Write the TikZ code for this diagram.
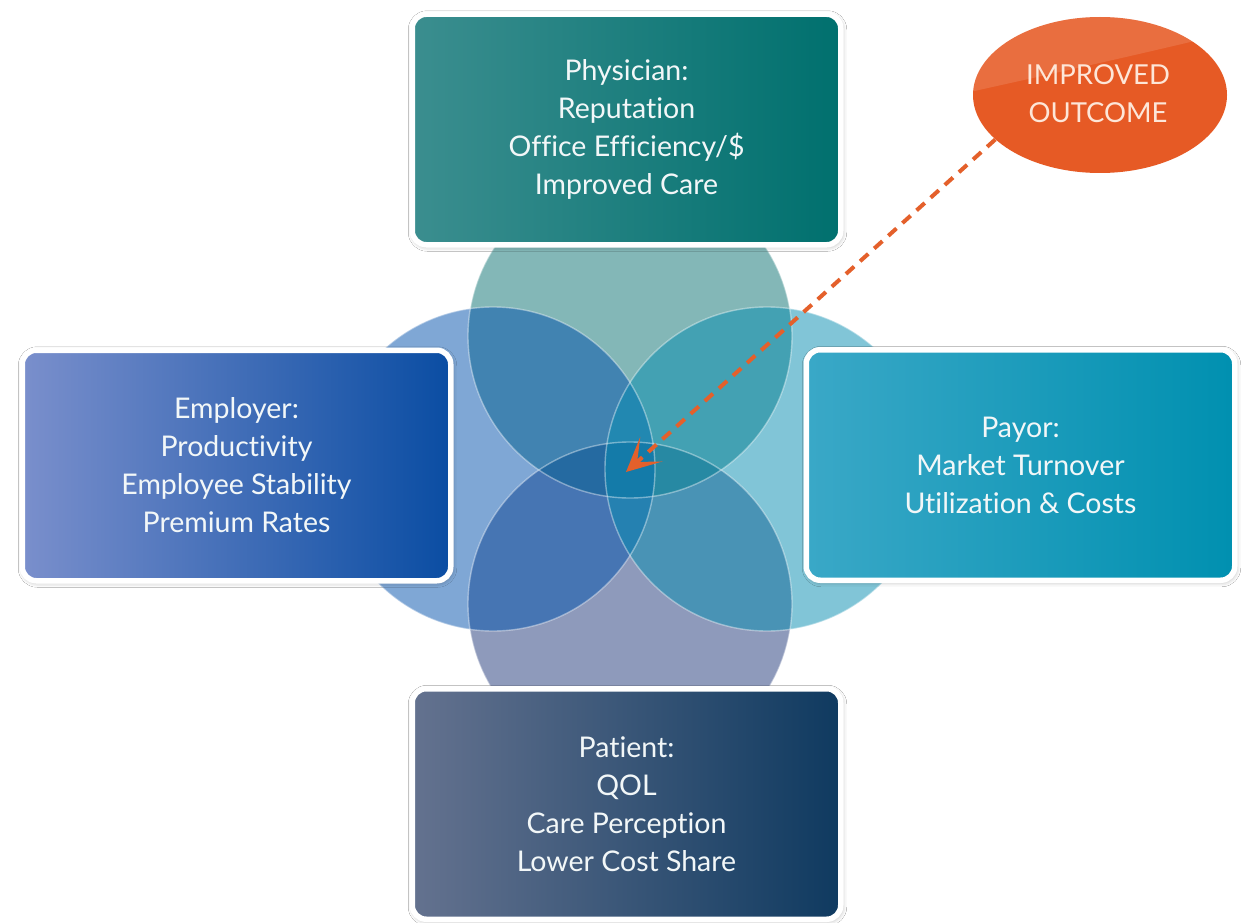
\documentclass[tikz,border=0pt]{standalone}
\usepackage{fontspec}
\setmainfont{Lato}[Ligatures={NoCommon}]
\usetikzlibrary{shapes.geometric,arrows.meta,shadows.blur}
\definecolor{cTop}{HTML}{097171}
\definecolor{cLeft}{HTML}{0051AD}
\definecolor{cRight}{HTML}{058DB1}
\definecolor{cBottom}{HTML}{1F3779}
\definecolor{physL}{HTML}{3B8E8F}
\definecolor{physR}{HTML}{00706E}
\definecolor{empL}{HTML}{7A8FCC}
\definecolor{empR}{HTML}{0A4DA3}
\definecolor{payL}{HTML}{3AA8C7}
\definecolor{payR}{HTML}{0090B0}
\definecolor{patL}{HTML}{64728F}
\definecolor{patR}{HTML}{0F3A60}
\definecolor{cardtext}{HTML}{F2F7F8}
\definecolor{orangeFill}{HTML}{E65A25}
\definecolor{orangeLine}{HTML}{E4602B}
\definecolor{ovaltext}{HTML}{FDE6D8}
\begin{document}
\begin{tikzpicture}[x=1pt,y=-1pt,
  circ/.style={fill opacity=0.5},
  ring/.style={draw=white, draw opacity=0.4, line width=1.4pt},
  card/.style={rounded corners=14pt, draw=white, line width=5.5pt,
    minimum width=428.5pt, minimum height=230.5pt, align=center,
    text=cardtext, font=\fontsize{28.5}{38}\selectfont,
    blur shadow={shadow xshift=1pt, shadow yshift=-1.5pt,
      shadow blur radius=5pt, shadow opacity=35}},
  oval/.style={ellipse, fill=orangeFill, minimum width=254pt,
    minimum height=156pt, inner sep=0pt},
  ovaltxt/.style={align=center, text=ovaltext,
    font=\fontsize{27.5}{38}\selectfont},
  arrowline/.style={draw=orangeLine, line width=4pt, dash pattern=on 11pt off 8pt,
    -{Stealth[length=34pt, width=33pt, inset=19pt, fill=orangeLine]}}
]
\useasboundingbox (0,0) rectangle (1243,923);
\fill[white] (0,0) rectangle (1243,923);

% overlapping circles
\fill[circ, cBottom] (630,604) circle[radius=162];
\fill[circ, cTop] (630,336) circle[radius=162];
\fill[circ, cLeft] (493,469) circle[radius=162];
\fill[circ, cRight] (767,469) circle[radius=162];
\draw[ring] (630,604) circle[radius=162];
\draw[ring] (630,336) circle[radius=162];
\draw[ring] (493,469) circle[radius=162];
\draw[ring] (767,469) circle[radius=162];

% cards
\node[card, left color=physL, right color=physR] (phys) at (626.5,129.5)
  {Physician:\\Reputation\\Office Efficiency/\$\\Improved Care};
\node[card, left color=empL, right color=empR] (emp) at (236.5,465.5)
  {Employer:\\Productivity\\Employee Stability\\Premium Rates};
\node[card, left color=payL, right color=payR] (pay) at (1020.5,465)
  {Payor:\\Market Turnover\\Utilization \& Costs};
\node[card, left color=patL, right color=patR] (pat) at (626.5,804)
  {Patient:\\QOL\\Care Perception\\Lower Cost Share};

% improved outcome oval
\node[oval] (ell) at (1100,95) {};
\begin{scope}
  \clip (1100,95) ellipse[x radius=127, y radius=78];
  \fill[white, opacity=0.12] (970,92) .. controls (1060,72) and (1150,52) .. (1232,32)
    -- (1232,10) -- (970,10) -- cycle;
\end{scope}
\node[ovaltxt] (otxt) at (1098,94) {IMPROVED\\OUTCOME};

% dashed arrow into the centre
\coordinate (tip) at (626,472);
\draw[arrowline] (ell.203) -- (tip);
\end{tikzpicture}
\end{document}
